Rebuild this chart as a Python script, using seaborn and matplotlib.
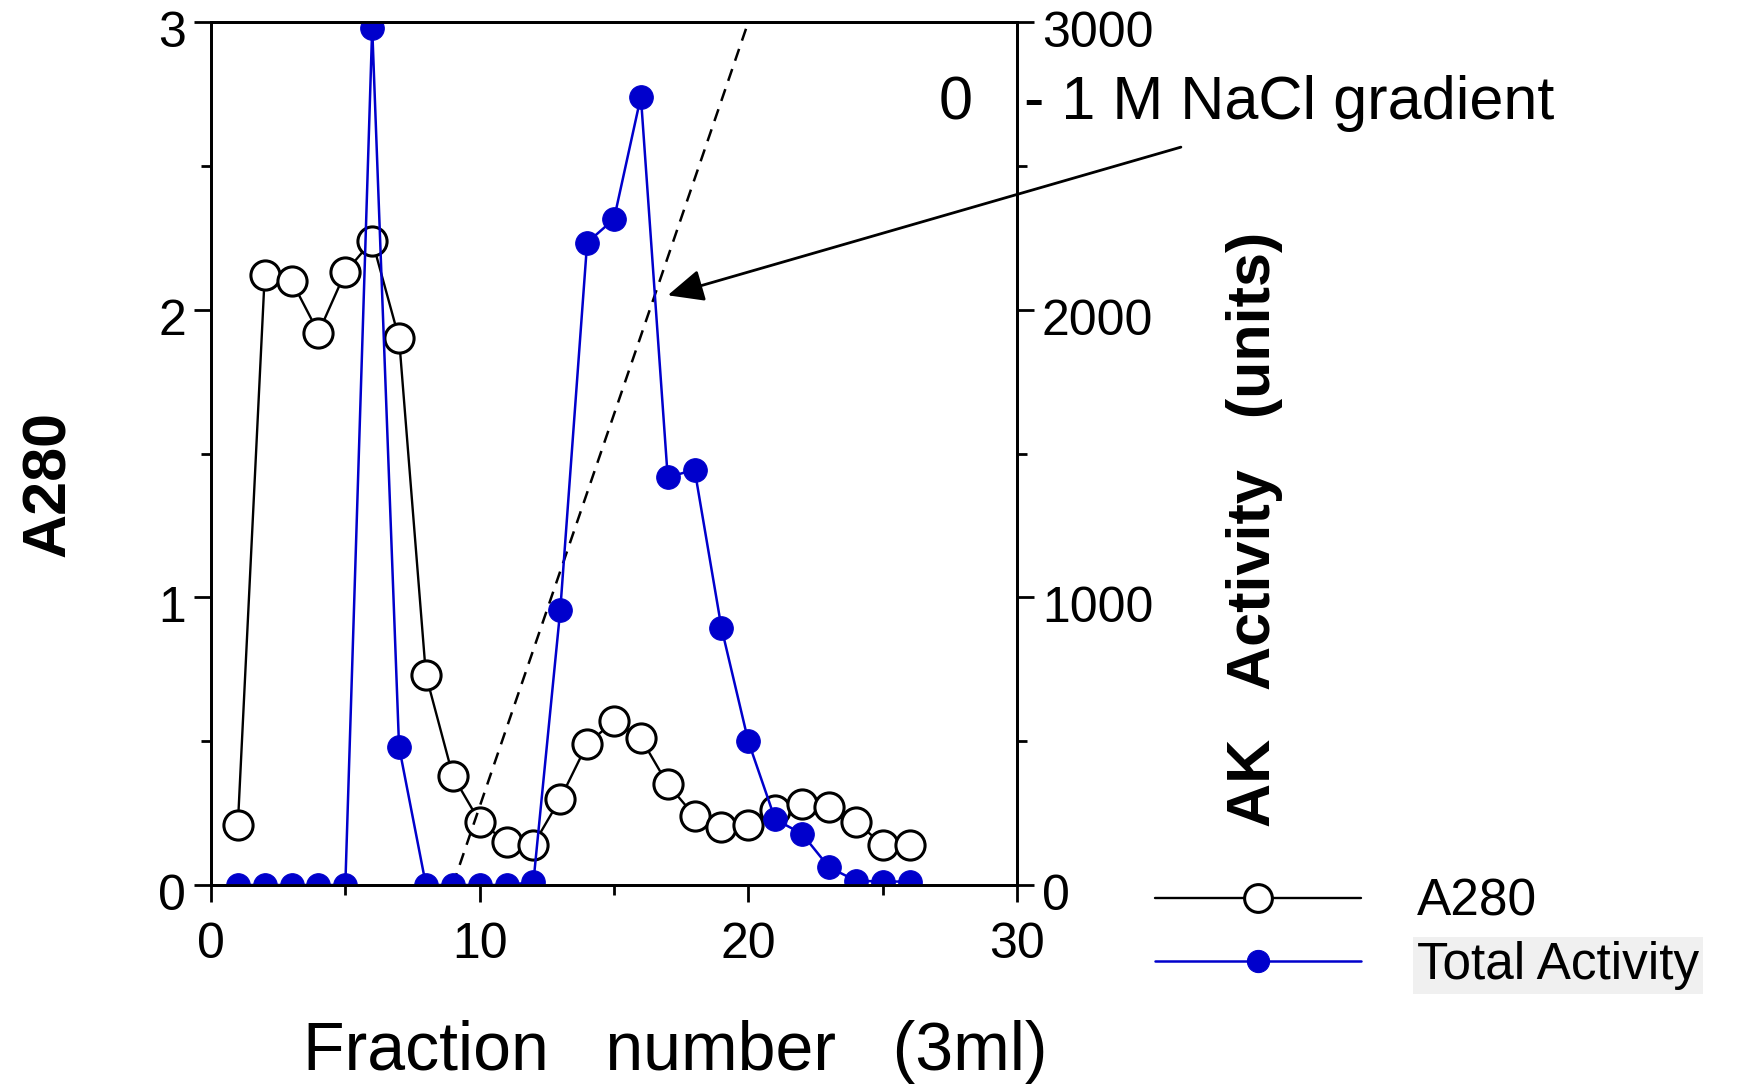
import numpy as np
import pandas as pd
import matplotlib
matplotlib.use("Agg")
import matplotlib.pyplot as plt
import matplotlib.transforms as mtransforms
import seaborn as sns

# ---- data ----
fractions = list(range(1, 27))
a280 = [0.21, 2.12, 2.10, 1.92, 2.13, 2.24, 1.90, 0.73, 0.38, 0.22, 0.15, 0.14, 0.30,
        0.49, 0.57, 0.51, 0.35, 0.24, 0.20, 0.21, 0.26, 0.28, 0.27, 0.22, 0.14, 0.14]
total_activity = [0, 0, 0, 0, 0, 2980, 480, 0, 0, 0, 0, 10, 956, 2233, 2315, 2741,
                  1417, 1444, 894, 499, 228, 178, 62, 15, 12, 12]
gradient_x = [9, 20]
gradient_y = [0, 3]
x_ticks = [0, 10, 20, 30]
left_ticks = [0, 1, 2, 3]
right_ticks = [0, 1000, 2000, 3000]

sns.set_style("ticks")
plt.rcParams['font.family'] = ['Liberation Sans', 'DejaVu Sans']
plt.rcParams['text.color'] = 'black'
plt.rcParams['axes.labelcolor'] = 'black'
plt.rcParams['xtick.color'] = 'black'
plt.rcParams['ytick.color'] = 'black'

W, H = 1746, 1084
fig = plt.figure(figsize=(W / 100, H / 100), dpi=100)
ax = fig.add_axes([211 / W, 1 - 885 / H, (1017 - 211) / W, (885 - 22) / H])
ax2 = ax.twinx()

df = pd.DataFrame({"fraction": fractions, "a280": a280, "activity": total_activity})

blue = "#0000CC"
sns.lineplot(data=df, x="fraction", y="a280", ax=ax, color="black", lw=1.7,
             marker="o", markersize=21, markerfacecolor="white",
             markeredgecolor="black", markeredgewidth=2.2, label="A280", legend=False)
sns.lineplot(data=df, x="fraction", y="activity", ax=ax2, color=blue, lw=1.8,
             marker="o", markersize=17, markerfacecolor=blue,
             markeredgecolor=blue, label="Total Activity", legend=False)

ax.plot(gradient_x, gradient_y, color="black", lw=1.8, linestyle=(0, (5, 3.5)))

ax.set_xlim(0, 30)
ax.set_ylim(0, 3)
ax2.set_ylim(0, 3000)
ax.set_xticks(x_ticks)
ax.set_yticks(left_ticks)
ax2.set_yticks(right_ticks)
ax.set_xticks([5, 15, 25], minor=True)
ax.set_yticks([0.5, 1.5, 2.5], minor=True)
ax2.set_yticks([500, 1500, 2500], minor=True)

for a in (ax, ax2):
    for s in a.spines.values():
        s.set_linewidth(2.0)
        s.set_color("black")
    a.tick_params(which="major", length=12, width=2, labelsize=36, pad=6, colors="black")
    a.tick_params(which="minor", length=7, width=2)
ax.tick_params(axis="x", labelsize=36, pad=15)

# y tick labels sit slightly below their ticks in the reference
shift = mtransforms.ScaledTranslation(0, -7 / 100, fig.dpi_scale_trans)
for lab in ax.get_yticklabels() + ax2.get_yticklabels():
    lab.set_transform(lab.get_transform() + shift)

ax.set_xlabel("Fraction   number   (3ml)", fontsize=49)
ax.xaxis.set_label_coords(0.576, -0.157)
ax.set_ylabel("A280", fontsize=44, fontweight="bold")
ax.yaxis.set_label_coords(-0.165, 0.465)
ax2.set_ylabel("AK   Activity   (units)", fontsize=44, fontweight="bold", rotation=90)
ax2.yaxis.set_label_coords(1.259, 0.412)

# gradient annotation
ax.annotate("", xy=(17.0, 2.05), xytext=(36.1, 2.565),
            arrowprops=dict(arrowstyle="-|>,head_length=1.0,head_width=0.45",
                            lw=2.0, color="black", mutation_scale=22,
                            shrinkA=0, shrinkB=0),
            annotation_clip=False)
fig.text(939 / W, 1 - 104 / H, "0   - 1 M NaCl gradient", fontsize=44,
         ha="left", va="center")

# legend
h1 = ax.get_lines()[0]
h2 = ax2.get_lines()[0]
leg = fig.legend([h1, h2], ["A280", "Total Activity"], loc="center left",
                 bbox_to_anchor=(1155 / W, 1 - 934 / H), frameon=False,
                 fontsize=37, handlelength=4.0, handletextpad=1.1,
                 borderpad=0, borderaxespad=0, labelspacing=0.28)
leg.get_texts()[1].set_bbox(dict(facecolor="#f0f0f0", edgecolor="none", pad=3))
leg.legend_handles[0].set_markersize(20)
leg.legend_handles[1].set_markersize(16)

fig.savefig("out.png", dpi=100)
